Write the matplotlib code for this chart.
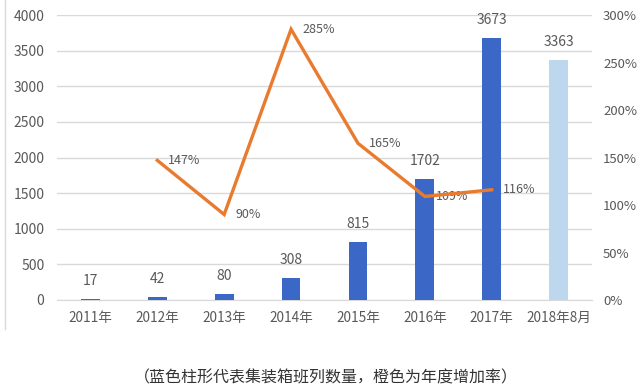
import matplotlib
matplotlib.use("Agg")
import matplotlib.pyplot as plt
import numpy as np

plt.rcParams['font.family'] = ['Noto Sans CJK SC', 'DejaVu Sans']

categories = ["2011年", "2012年", "2013年", "2014年", "2015年", "2016年", "2017年", "2018年8月"]
counts = [17, 42, 80, 308, 815, 1702, 3673, 3363]
growth_years = ["2012年", "2013年", "2014年", "2015年", "2016年", "2017年"]
growth = [147, 90, 285, 165, 109, 116]
caption = "（蓝色柱形代表集装箱班列数量，橙色为年度增加率）"

bar_color = "#3B67C6"
bar_light = "#BDD7EE"
line_color = "#E97B2F"
text_color = "#595959"

fig = plt.figure(figsize=(6.41, 3.92), dpi=100)
ax = fig.add_axes([0.0889, 0.2347, 0.9236 - 0.0889, 0.9617 - 0.2347])
x = np.arange(len(categories))
colors = [bar_color] * (len(categories) - 1) + [bar_light]
ax.bar(x, counts, width=0.28, color=colors, zorder=3)
ax.set_ylim(0, 4000)
ax.set_xlim(-0.5, len(categories) - 0.5)
ax.set_yticks(np.arange(0, 4001, 500))
ax.grid(axis='y', color='#D9D9D9', linewidth=1, zorder=0)
ax.set_axisbelow(True)
for s in ['top', 'right', 'left']:
    ax.spines[s].set_visible(False)
ax.spines['bottom'].set_color('#D9D9D9')
ax.tick_params(axis='y', length=0, labelsize=10, colors=text_color, pad=9)
ax.tick_params(axis='x', length=0, labelsize=9.8, colors=text_color, pad=8)
ax.set_xticks(x)
ax.set_xticklabels(categories)
for xi, v in zip(x, counts):
    ax.annotate(str(v), (xi, v), xytext=(0, 8), textcoords='offset points',
                ha='center', va='bottom', fontsize=10, color=text_color)

ax2 = ax.twinx()
gx = [categories.index(c) for c in growth_years]
ax2.plot(gx, growth, color=line_color, linewidth=2.4, zorder=4, solid_joinstyle='miter')
ax2.set_ylim(0, 300)
ax2.set_yticks(np.arange(0, 301, 50))
ax2.set_yticklabels([f"{v}%" for v in range(0, 301, 50)])
for s in ['top', 'right', 'left', 'bottom']:
    ax2.spines[s].set_visible(False)
ax2.tick_params(axis='y', length=0, labelsize=9.5, colors=text_color, pad=8)
for xi, v in zip(gx, growth):
    ax2.annotate(f"{v}%", (xi, v), xytext=(8, 0), textcoords='offset points',
                 ha='left', va='center', fontsize=9, color=text_color)

fig.lines.append(plt.Line2D([0.008, 0.008], [0.16, 1.0], transform=fig.transFigure,
                            color='#D9D9D9', linewidth=1))
fig.text(0.508, 0.036, caption, ha='center', va='center', fontsize=11.5, color='#333333')

fig.savefig("out.png", dpi=100)
